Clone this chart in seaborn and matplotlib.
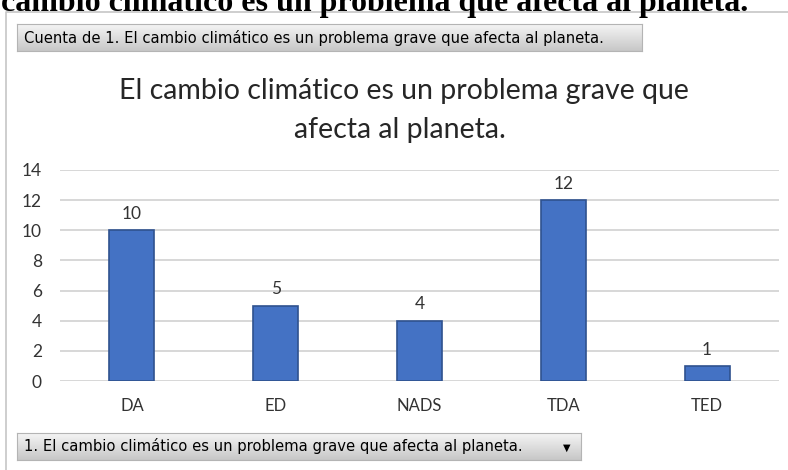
import numpy as np
import seaborn as sns
import matplotlib.pyplot as plt
from matplotlib.lines import Line2D

# data
categorias = ["DA", "ED", "NADS", "TDA", "TED"]
cuenta = [10, 5, 4, 12, 1]
titulo = ["El cambio climático es un problema grave que", "afecta al planeta."]
texto_cortado = "cambio climático es un problema que afecta al planeta."
boton_arriba = "Cuenta de 1. El cambio climático es un problema grave que afecta al planeta."
boton_abajo = "1. El cambio climático es un problema grave que afecta al planeta."

sns.set_theme(style="white")
plt.rcParams['font.family'] = ['Lato', 'DejaVu Sans']

W, H = 788, 470
fig = plt.figure(figsize=(W / 100, H / 100), dpi=100)

def fx(px):
    return px / W

def fy(py):
    return 1 - py / H

# heading of the document above the chart, cut by the top edge
fig.text(fx(1), fy(11), texto_cortado, family=['Liberation Serif', 'DejaVu Serif'],
         weight='bold', fontsize=23, color='black', va='baseline', ha='left')

# chart frame
fig.add_artist(Line2D([fx(6), fx(6), 1], [0, fy(12), fy(12)], color='#c6c6c6', lw=1.2))

# pivot buttons, light grey gradient
shade = np.linspace(0.96, 0.78, 64)
grad = np.dstack([shade, shade, shade]).reshape(-1, 1, 3)

def boton(x0, y0, x1, y1, texto, flecha=False):
    bax = fig.add_axes([fx(x0), fy(y1), fx(x1 - x0), (y1 - y0) / H])
    bax.imshow(grad, aspect='auto', extent=[0, 1, 0, 1])
    bax.set_xlim(0, 1)
    bax.set_ylim(0, 1)
    bax.set_xticks([])
    bax.set_yticks([])
    for s in bax.spines.values():
        s.set_color('#b4b4b4')
        s.set_linewidth(0.8)
    bax.text(7 / (x1 - x0), 0.5, texto, family=['DejaVu Sans'],
             fontsize=10.6, color='black', va='center', ha='left', transform=bax.transAxes)
    if flecha:
        bax.text(1 - 14 / (x1 - x0), 0.45, "▼", family=['DejaVu Sans'], fontsize=7,
                 color='black', va='center', ha='center', transform=bax.transAxes)

boton(17, 24, 642, 51, boton_arriba)
boton(17, 433, 581, 460, boton_abajo, flecha=True)

# title, two centred lines
fig.text(fx(404), fy(99), titulo[0], fontsize=20.5, color='#262626', ha='center', va='baseline')
fig.text(fx(400), fy(138), titulo[1], fontsize=20.5, color='#262626', ha='center', va='baseline')

# bar chart
ax = fig.add_axes([fx(60), fy(381), fx(779 - 60), (381 - 170) / H])
ax.yaxis.grid(True, color='#d4d4d4', lw=1.3)
ax.set_axisbelow(True)
sns.barplot(x=categorias, y=cuenta, color='#4472C4', saturation=1, width=0.313,
            edgecolor='#2F528F', linewidth=1.2, ax=ax)
ax.set_xlim(-0.5, 4.5)
ax.set_ylim(0, 14)
ax.set_yticks(range(0, 15, 2))
for s in ax.spines.values():
    s.set_visible(False)
ax.tick_params(axis='y', length=0, pad=13, labelsize=12.5, labelcolor='#333333')
ax.tick_params(axis='x', length=0, pad=12, labelsize=12, labelcolor='#333333')
ax.set_xlabel("")
ax.set_ylabel("")
ax.bar_label(ax.containers[0], padding=6, fontsize=12.5, color='#333333')

fig.savefig("out.png", dpi=100)
